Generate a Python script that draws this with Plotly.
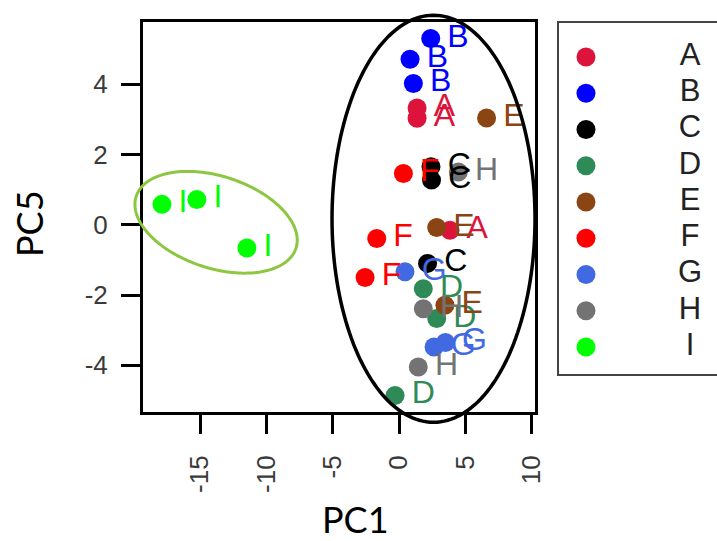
import numpy as np
import plotly.graph_objects as go

# ---- data -------------------------------------------------------------
groups = ["A", "B", "C", "D", "E", "F", "G", "H", "I"]
group_colors = ["#DC143C", "#0000FF", "#000000", "#2E8B57", "#8B4513",
                "#FF0000", "#4169E1", "#737373", "#00FF00"]

sample_group = ["A", "A", "A", "B", "B", "B", "C", "C", "C",
                "D", "D", "D", "E", "E", "E", "F", "F", "F",
                "G", "G", "G", "H", "H", "H", "I", "I", "I"]
pc1 = [1.36, 1.36, 3.84, 2.39, 0.83, 1.08, 2.41, 2.45, 2.15,
       1.83, 2.84, -0.30, 6.60, 2.84, 3.46, 0.33, -1.68, -2.56,
       0.45, 2.64, 3.50, 4.47, 1.83, 1.45, -17.87, -15.24, -11.47]
pc5 = [3.32, 3.03, -0.16, 5.30, 4.71, 4.02, 1.65, 1.27, -1.10,
       -1.82, -2.67, -4.86, 3.04, -0.08, -2.29, 1.46, -0.39, -1.50,
       -1.34, -3.48, -3.35, 1.50, -2.39, -4.05, 0.58, 0.72, -0.66]

x_ticks = [-15, -10, -5, 0, 5, 10]
x_tick_labels = ["-15", "-10", "-5", "0", "5", "10"]
y_ticks = [-4, -2, 0, 2, 4]
y_tick_labels = ["-4", "-2", "0", "2", "4"]

# ---- geometry ---------------------------------------------------------
W, H = 717, 541
PX_LEFT, PX_RIGHT, PX_TOP, PX_BOTTOM = 143, 535, 22, 412
X_RANGE = [-19.3, 10.25]
Y_RANGE = [-5.33, 5.77]

FONT = "Liberation Sans, Arial, sans-serif"
TITLE_FONT = "Lato, Open Sans, sans-serif"


def data_to_px(x, y):
    px = PX_LEFT + (x - X_RANGE[0]) / (X_RANGE[1] - X_RANGE[0]) * (PX_RIGHT - PX_LEFT)
    py = PX_BOTTOM - (y - Y_RANGE[0]) / (Y_RANGE[1] - Y_RANGE[0]) * (PX_BOTTOM - PX_TOP)
    return px, py


def ellipse_path(cx, cy, a_px, b_px, angle_deg, n=180):
    """Closed polyline path (paper coords) of an ellipse centred on a data
    point, with semi-axes given in screen pixels and a clockwise tilt."""
    cpx, cpy = data_to_px(cx, cy)
    t = np.linspace(0, 2 * np.pi, n, endpoint=False)
    th = np.deg2rad(angle_deg)
    ex = a_px * np.cos(t)
    ey = b_px * np.sin(t)
    px = cpx + ex * np.cos(th) - ey * np.sin(th)
    py = cpy + ex * np.sin(th) + ey * np.cos(th)
    pts = [f"{x / W:.5f},{1 - y / H:.5f}" for x, y in zip(px, py)]
    return "M" + " L".join(pts) + " Z"


fig = go.Figure()

color_of = dict(zip(groups, group_colors))

# points
for g in groups:
    xs = [x for x, s in zip(pc1, sample_group) if s == g]
    ys = [y for y, s in zip(pc5, sample_group) if s == g]
    fig.add_trace(go.Scatter(
        x=xs, y=ys, mode="markers", name=g, showlegend=False,
        marker=dict(size=19, color=color_of[g], line=dict(width=0)),
        hoverinfo="skip"))

# sample labels, drawn over all points
for g in groups:
    xs = [x for x, s in zip(pc1, sample_group) if s == g]
    ys = [y for y, s in zip(pc5, sample_group) if s == g]
    fig.add_trace(go.Scatter(
        x=xs, y=ys, mode="markers+text", showlegend=False,
        text=[g] * len(xs), textposition="middle right",
        textfont=dict(family=FONT, size=32, color=color_of[g]),
        marker=dict(size=25, opacity=0),
        hoverinfo="skip"))

# legend panel on its own axes
fig.add_trace(go.Scatter(
    x=[0.176] * len(groups), y=groups, mode="markers", showlegend=False,
    marker=dict(size=19, color=group_colors),
    xaxis="x2", yaxis="y2", hoverinfo="skip"))
fig.add_trace(go.Scatter(
    x=[0.83] * len(groups), y=groups, mode="text", showlegend=False,
    text=groups, textposition="middle center",
    textfont=dict(family=FONT, size=31, color="#222222"),
    xaxis="x2", yaxis="y2", hoverinfo="skip"))

axis_common = dict(
    showgrid=False, zeroline=False, showline=True, linecolor="black",
    linewidth=3, mirror=True, ticks="outside", ticklen=19, tickwidth=3,
    tickcolor="black", tickfont=dict(family=FONT, size=26, color="#3a3a3a"),
    automargin=False, fixedrange=True)

fig.update_layout(
    width=W, height=H,
    margin=dict(l=0, r=0, t=0, b=0),
    paper_bgcolor="white", plot_bgcolor="white",
    xaxis=dict(domain=[PX_LEFT / W, PX_RIGHT / W], range=X_RANGE,
               tickvals=x_ticks, ticktext=x_tick_labels, tickangle=-90,
               ticklabelstandoff=11, **axis_common),
    yaxis=dict(domain=[1 - PX_BOTTOM / H, 1 - PX_TOP / H], range=Y_RANGE,
               tickvals=y_ticks, ticktext=y_tick_labels,
               ticklabelstandoff=8, **axis_common),
    xaxis2=dict(domain=[558 / W, 1.0], range=[0, 1], visible=False,
                anchor="y2", fixedrange=True),
    yaxis2=dict(domain=[1 - 375 / H, 1 - 22 / H], type="category",
                categoryarray=groups, categoryorder="array",
                range=[8.77, -0.966], visible=False, anchor="x2",
                fixedrange=True),
    showlegend=False,
    annotations=[
        dict(text="PC1", x=355 / W, y=1 - 519 / H, xref="paper", yref="paper",
             showarrow=False, xanchor="center", yanchor="middle", borderpad=0,
             font=dict(family=TITLE_FONT, size=36, color="black")),
        dict(text="PC5", x=29 / W, y=1 - 224 / H, xref="paper", yref="paper",
             showarrow=False, xanchor="center", yanchor="middle", textangle=-90,
             borderpad=0,
             font=dict(family=TITLE_FONT, size=36, color="black")),
    ],
    shapes=[
        # legend frame
        dict(type="rect", xref="paper", yref="paper",
             x0=558 / W, x1=1.02, y0=1 - 375 / H, y1=1 - 22 / H,
             line=dict(color="#444444", width=2), fillcolor="rgba(0,0,0,0)",
             layer="above"),
        # cluster outlines
        dict(type="path", xref="paper", yref="paper",
             path=ellipse_path(2.60, 0.17, 101.5, 203.5, 0),
             line=dict(color="black", width=3.5), layer="above"),
        dict(type="path", xref="paper", yref="paper",
             path=ellipse_path(-13.79, 0.07, 84, 46, 18),
             line=dict(color="#8DC641", width=3), layer="above"),
    ],
)

fig.write_html("out.html")
